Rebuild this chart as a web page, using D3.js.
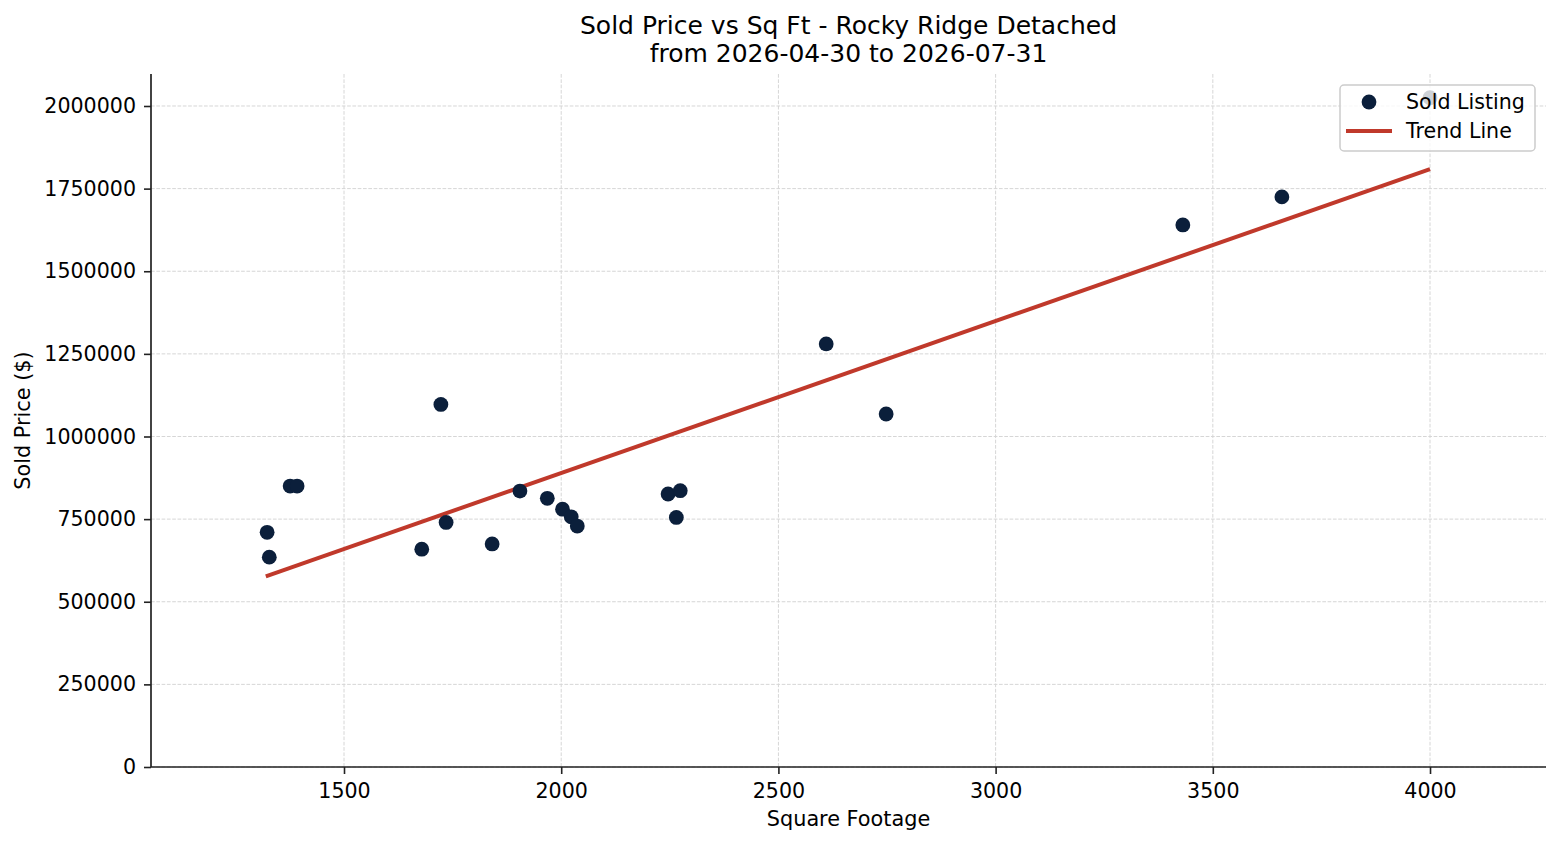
<!DOCTYPE html>
<html>
<head>
<meta charset="utf-8">
<script src="https://cdn.jsdelivr.net/npm/d3@7"></script>
<style>
  body { margin: 0; background: #fff; }
  svg text { font-family: "DejaVu Sans", sans-serif; fill: #000; }
</style>
</head>
<body>
<div id="chart"></div>
<script>
// Sold listings
const sqft = [1323, 1328, 1376, 1392, 1679, 1723, 1735, 1841, 1905, 1968, 2003, 2023, 2037, 2246, 2265, 2274, 2610, 2748, 3431, 3659, 4000];
const price = [710000, 635000, 850000, 850000, 659000, 1097000, 740000, 675000, 835000, 813000, 780000, 757000, 729000, 826000, 755000, 836000, 1280000, 1068000, 1640000, 1725000, 2025000];

// Trend line end points
const trendSqft = [1320, 4000];
const trendPrice = [577000, 1809000];

const xTicks = [1500, 2000, 2500, 3000, 3500, 4000];
const yTicks = [0, 250000, 500000, 750000, 1000000, 1250000, 1500000, 1750000, 2000000];

const legendLabels = ["Sold Listing", "Trend Line"];

const width = 1560, height = 845;
const margin = { top: 74, right: 14, bottom: 78, left: 151 };
const pointColor = "#0b1f3b", lineColor = "#c0392b";

const svg = d3.select("#chart").append("svg")
    .attr("width", width)
    .attr("height", height);

const x = d3.scaleLinear()
    .domain([1055.7, 4267])
    .range([margin.left, width - margin.right]);

const y = d3.scaleLinear()
    .domain([0, 2096800])
    .range([height - margin.bottom, margin.top]);

// grid
const grid = svg.append("g");
grid.selectAll(".gx").data(xTicks).enter().append("line")
    .attr("x1", d => x(d)).attr("x2", d => x(d))
    .attr("y1", margin.top).attr("y2", height - margin.bottom)
    .attr("stroke", "#d6d6d6").attr("stroke-width", 1)
    .attr("stroke-dasharray", "3.7,1.6");
grid.selectAll(".gy").data(yTicks).enter().append("line")
    .attr("x1", margin.left).attr("x2", width - margin.right)
    .attr("y1", d => y(d)).attr("y2", d => y(d))
    .attr("stroke", "#d6d6d6").attr("stroke-width", 1)
    .attr("stroke-dasharray", "3.7,1.6");

// axes
const xAxis = svg.append("g")
    .attr("transform", `translate(0,${height - margin.bottom})`)
    .call(d3.axisBottom(x).tickValues(xTicks).tickSize(7).tickPadding(9).tickFormat(d3.format("d")));
const yAxis = svg.append("g")
    .attr("transform", `translate(${margin.left},0)`)
    .call(d3.axisLeft(y).tickValues(yTicks).tickSize(7).tickPadding(8).tickFormat(d3.format("d")));

[xAxis, yAxis].forEach(a => {
    a.select(".domain").attr("stroke", "#222").attr("stroke-width", 1.7);
    a.selectAll(".tick line").attr("stroke", "#222").attr("stroke-width", 1.6);
    a.selectAll(".tick text").style("font-size", "20.6px").style("font-family", "DejaVu Sans, sans-serif");
});
// flat spines, no end caps
xAxis.select(".domain").attr("d", `M${margin.left},0H${width - margin.right}`);
yAxis.select(".domain").attr("d", `M0,${height - margin.bottom}V${margin.top}`);

// trend line
const line = d3.line()
    .x(d => x(d[0]))
    .y(d => y(d[1]));
svg.append("path")
    .datum(trendSqft.map((s, i) => [s, trendPrice[i]]))
    .attr("fill", "none")
    .attr("stroke", lineColor)
    .attr("stroke-width", 4)
    .attr("d", line);

// points
svg.append("g").selectAll("circle")
    .data(sqft.map((s, i) => [s, price[i]]))
    .enter().append("circle")
    .attr("cx", d => x(d[0]))
    .attr("cy", d => y(d[1]))
    .attr("r", 7.4)
    .attr("fill", pointColor);

// titles
svg.append("text")
    .attr("x", (margin.left + width - margin.right) / 2)
    .attr("y", 34)
    .attr("text-anchor", "middle")
    .style("font-size", "25px")
    .text("Sold Price vs Sq Ft - Rocky Ridge Detached");
svg.append("text")
    .attr("x", (margin.left + width - margin.right) / 2)
    .attr("y", 62)
    .attr("text-anchor", "middle")
    .style("font-size", "25px")
    .text("from 2026-04-30 to 2026-07-31");

svg.append("text")
    .attr("x", (margin.left + width - margin.right) / 2)
    .attr("y", 826)
    .attr("text-anchor", "middle")
    .style("font-size", "20.8px")
    .text("Square Footage");

svg.append("text")
    .attr("transform", `translate(30,${(margin.top + height - margin.bottom) / 2}) rotate(-90)`)
    .attr("text-anchor", "middle")
    .style("font-size", "20.8px")
    .text("Sold Price ($)");

// legend
const lg = svg.append("g").attr("transform", "translate(1340,85)");
lg.append("rect")
    .attr("width", 195).attr("height", 66)
    .attr("rx", 4)
    .attr("fill", "#fff").attr("fill-opacity", 0.8)
    .attr("stroke", "#cccccc").attr("stroke-width", 1.5);
lg.append("circle").attr("cx", 29).attr("cy", 17).attr("r", 7.4).attr("fill", pointColor);
lg.append("line").attr("x1", 6).attr("x2", 52).attr("y1", 46).attr("y2", 46)
    .attr("stroke", lineColor).attr("stroke-width", 4);
lg.selectAll("text.lab").data(legendLabels).enter().append("text")
    .attr("x", 66)
    .attr("y", (d, i) => 17 + i * 29)
    .attr("dominant-baseline", "central")
    .style("font-size", "20.6px")
    .text(d => d);
</script>
</body>
</html>
